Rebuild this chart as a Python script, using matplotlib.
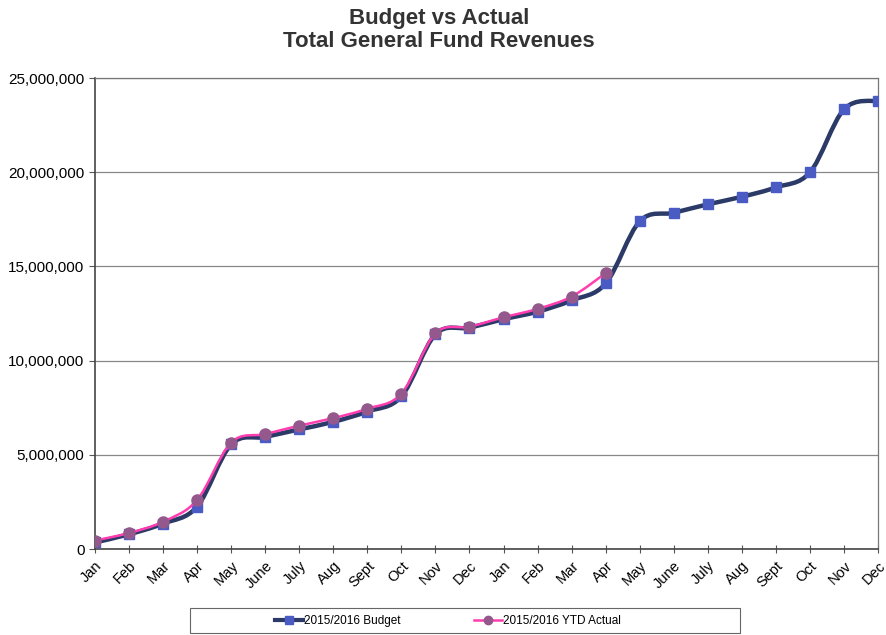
import matplotlib
matplotlib.use("Agg")
import matplotlib.pyplot as plt
from matplotlib.path import Path
from matplotlib.patches import PathPatch, Rectangle
from matplotlib.lines import Line2D
from matplotlib.ticker import FuncFormatter
import numpy as np

plt.rcParams["font.family"] = ["Liberation Sans", "DejaVu Sans"]

months = ["Jan", "Feb", "Mar", "Apr", "May", "June", "July", "Aug", "Sept", "Oct", "Nov", "Dec",
          "Jan", "Feb", "Mar", "Apr", "May", "June", "July", "Aug", "Sept", "Oct", "Nov", "Dec"]

budget = [350000, 780000, 1350000, 2250000, 5550000, 5950000, 6350000, 6750000, 7300000, 8100000,
          11400000, 11750000, 12200000, 12600000, 13200000, 14100000, 17400000, 17850000,
          18300000, 18700000, 19200000, 20000000, 23350000, 23800000]

actual = [450000, 850000, 1450000, 2600000, 5650000, 6100000, 6550000, 6950000, 7450000, 8250000,
          11450000, 11800000, 12300000, 12750000, 13400000, 14650000]


def smooth_path(xs, ys):
    # Excel-style smoothed line: cubic bezier through each point
    xs = np.asarray(xs, float)
    ys = np.asarray(ys, float)
    n = len(xs)
    verts = [(xs[0], ys[0])]
    codes = [Path.MOVETO]
    for i in range(n - 1):
        p0 = max(i - 1, 0)
        p3 = min(i + 2, n - 1)
        c1 = (xs[i] + (xs[i + 1] - xs[p0]) / 6, ys[i] + (ys[i + 1] - ys[p0]) / 6)
        c2 = (xs[i + 1] - (xs[p3] - xs[i]) / 6, ys[i + 1] - (ys[p3] - ys[i]) / 6)
        verts += [c1, c2, (xs[i + 1], ys[i + 1])]
        codes += [Path.CURVE4] * 3
    return Path(verts, codes)


fig = plt.figure(figsize=(8.87, 6.35), dpi=100)
ax = fig.add_axes([0.107, 0.1354, 0.883, 0.7416])

x_b = np.arange(len(budget))
x_a = np.arange(len(actual))

navy = "#2b3a66"
blue = "#4a5cc4"
pink = "#ff3db0"
purple = "#94588c"

ax.add_patch(PathPatch(smooth_path(x_b, budget), facecolor="none", edgecolor=navy, lw=3.2, zorder=3))
ax.plot(x_b, budget, linestyle="none", marker="s", ms=6.5, color=blue, zorder=4)
ax.add_patch(PathPatch(smooth_path(x_a, actual), facecolor="none", edgecolor=pink, lw=1.8, zorder=5))
ax.plot(x_a, actual, linestyle="none", marker="o", ms=8, color=purple, zorder=6)

ax.set_xlim(0, len(months) - 1)
ax.set_ylim(0, 25000000)
ax.set_yticks(np.arange(0, 25000001, 5000000))
ax.yaxis.set_major_formatter(FuncFormatter(lambda v, p: f"{int(v):,}"))
ax.set_xticks(x_b)
ax.set_xticklabels(months, rotation=45, ha="right", rotation_mode="anchor", fontsize=10.5)
ax.tick_params(axis="y", labelsize=11, length=4, direction="out", color="#555555")
ax.tick_params(axis="x", length=6, direction="inout", color="#555555", pad=4)
ax.grid(axis="y", color="#888888", lw=0.9)
ax.set_axisbelow(True)

for side in ["left", "bottom"]:
    ax.spines[side].set_color("#444444")
    ax.spines[side].set_linewidth(1.2)
for side in ["top", "right"]:
    ax.spines[side].set_color("#777777")
    ax.spines[side].set_linewidth(0.9)

fig.text(0.495, 0.988, "Budget vs Actual\nTotal General Fund Revenues", ha="center", va="top",
         fontsize=16, fontweight="bold", color="#333333", linespacing=1.15)

handles = [
    Line2D([], [], color=navy, lw=3, marker="s", ms=6, markerfacecolor=blue, markeredgecolor=blue),
    Line2D([], [], color=pink, lw=1.8, marker="o", ms=6, markerfacecolor=purple, markeredgecolor=purple),
]
leg = fig.legend(handles, ["2015/2016 Budget", "2015/2016 YTD Actual"], loc="center",
                 bbox_to_anchor=(0.505, 0.0225), ncol=2, fontsize=8.5, frameon=False,
                 handlelength=2.4, handletextpad=0.1, columnspacing=6.2)
fig.add_artist(Rectangle((190 / 887, 2 / 635), 550 / 887, 25 / 635, transform=fig.transFigure,
                         facecolor="none", edgecolor="#666666", lw=0.8))

fig.savefig("out.png", dpi=100)
